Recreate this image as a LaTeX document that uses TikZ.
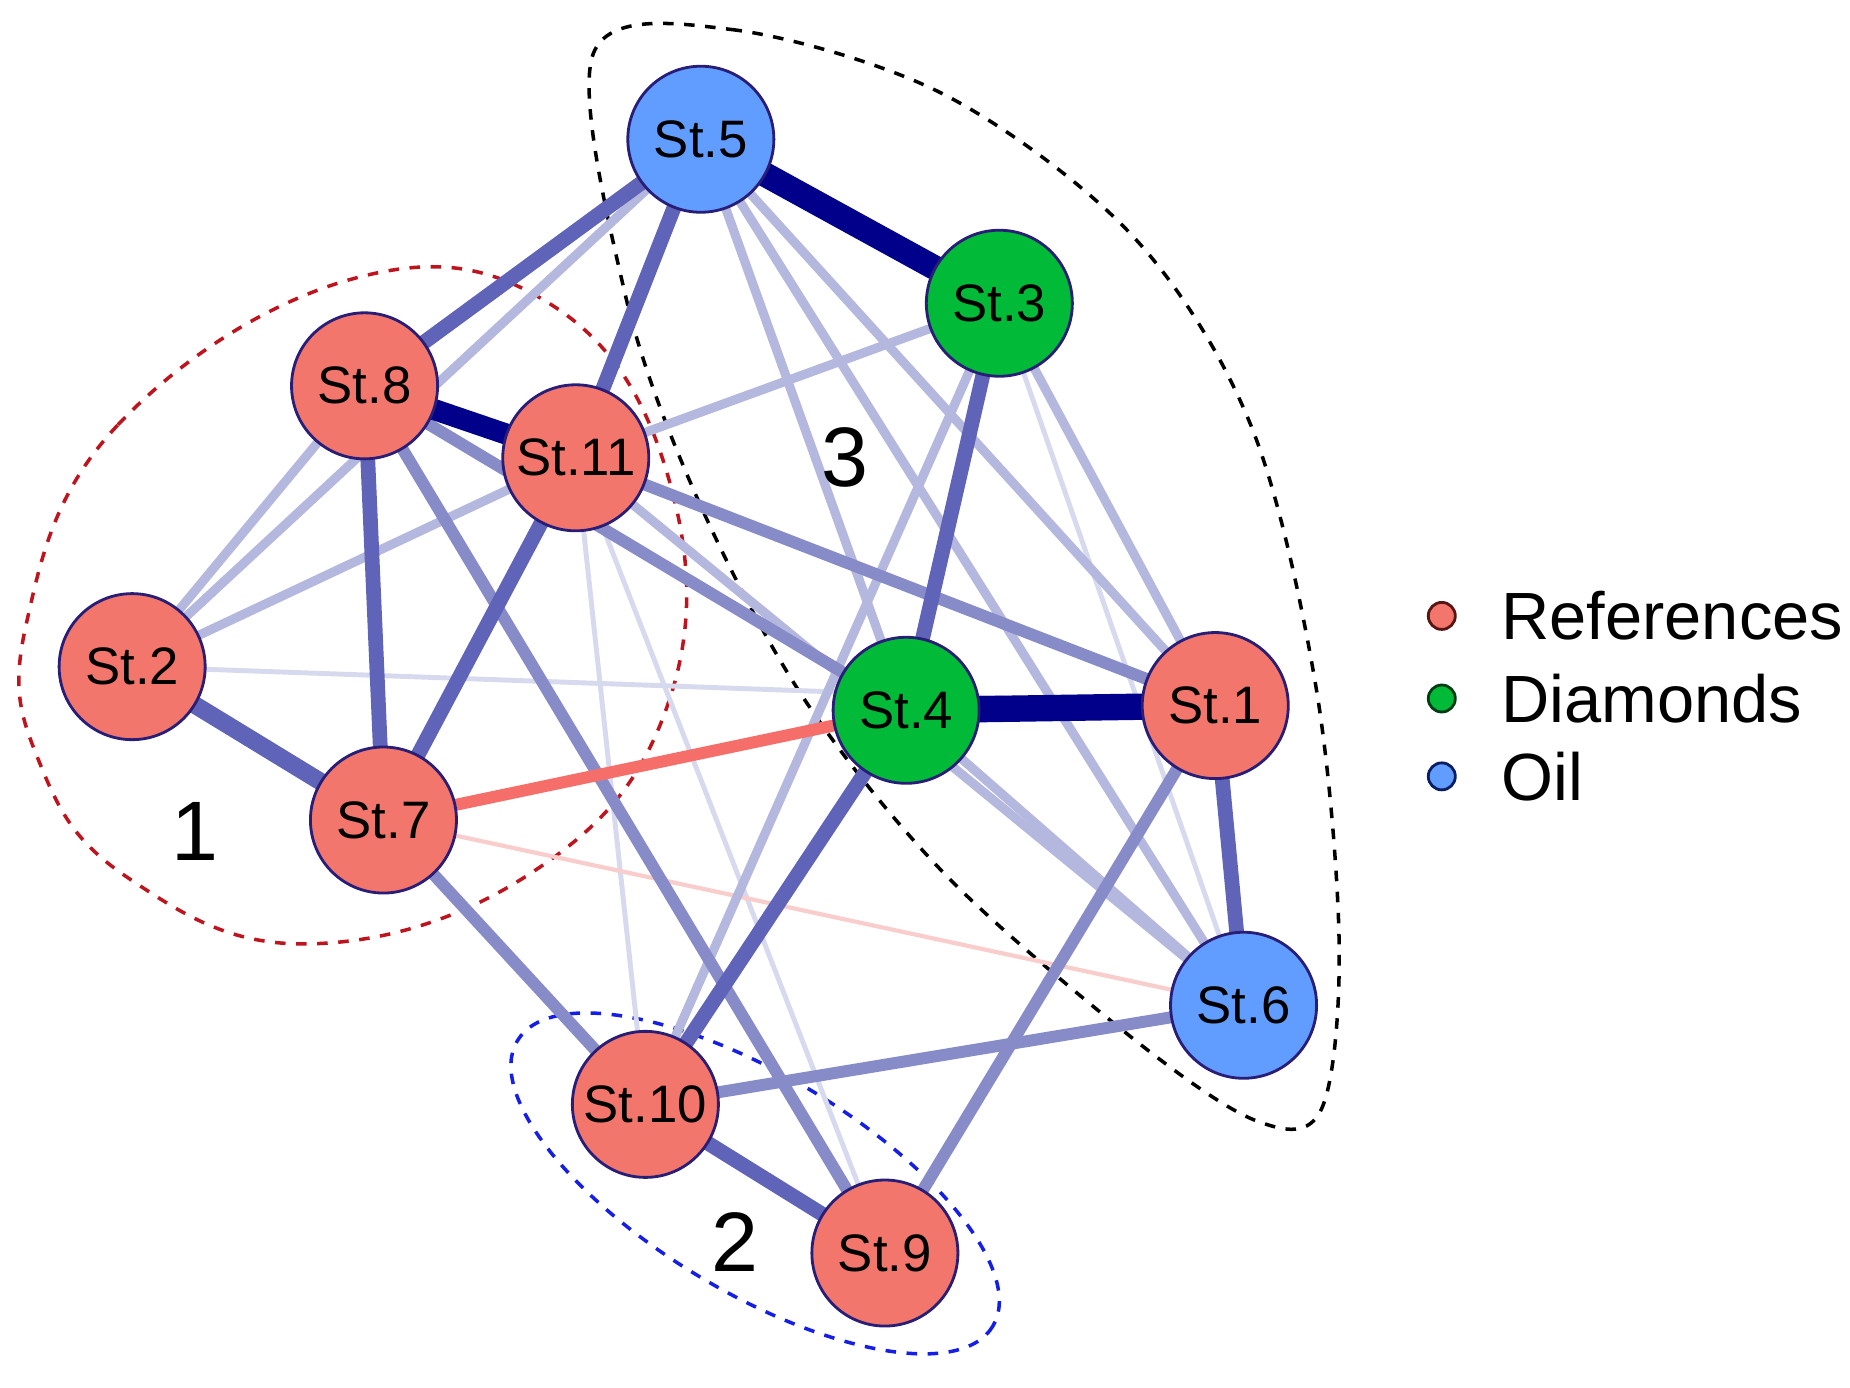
\documentclass[tikz,border=0pt]{standalone}
\usepackage{fontspec}
\setmainfont{Liberation Sans}
\begin{document}
\begin{tikzpicture}[x=0.0118cm,y=-0.0118cm,
  st/.style={circle,draw={rgb,255:red,40;green,30;blue,120},line width=0.8pt,minimum size=1.46cm,inner sep=0pt,font=\fontsize{15}{17}\selectfont},
  ref/.style={st,fill={rgb,255:red,242;green,118;blue,108}},
  dia/.style={st,fill={rgb,255:red,0;green,186;blue,56}},
  oil/.style={st,fill={rgb,255:red,97;green,156;blue,255}},
  e0/.style={line width=7pt,draw={rgb,255:red,0;green,0;blue,139}},
  e1/.style={line width=4.2pt,draw={rgb,255:red,95;green,100;blue,185}},
  e2/.style={line width=3.4pt,draw={rgb,255:red,135;green,140;blue,200}},
  e3/.style={line width=2.6pt,draw={rgb,255:red,180;green,183;blue,222}},
  e4/.style={line width=1.4pt,draw={rgb,255:red,215;green,217;blue,238}},
  red/.style={line width=3.4pt,draw={rgb,255:red,245;green,110;blue,105}},
  pink/.style={line width=1.2pt,draw={rgb,255:red,250;green,205;blue,205}},
  hull/.style={dashed,line width=1pt},
  num/.style={font=\fontsize{24}{26}\selectfont},
  leg/.style={circle,draw,line width=0.8pt,minimum size=0.27cm,inner sep=0pt},
  legt/.style={anchor=west,font=\fontsize{19}{22}\selectfont}]
\useasboundingbox (0,0) rectangle (1568,1176);
\coordinate (S5) at (594,118); \coordinate (S3) at (847,257);
\coordinate (S8) at (309,327); \coordinate (S11) at (488,388);
\coordinate (S2) at (112,565); \coordinate (S7) at (325,695);
\coordinate (S4) at (768,602); \coordinate (S1) at (1030,598);
\coordinate (S6) at (1054,852); \coordinate (S10) at (547,936);
\coordinate (S9) at (750,1062);
% hulls
\draw[hull,draw={rgb,255:red,190;green,20;blue,30}] plot[smooth cycle,tension=0.7] coordinates {(22,530) (100,360) (300,236) (470,260) (568,410) (565,600) (450,740) (260,800) (110,745) (35,650)};
\draw[hull,draw={rgb,255:red,20;green,30;blue,230}] (640,1003) ellipse[x radius=235,y radius=92,rotate=-31];
\draw[hull] plot[smooth cycle,tension=0.55] coordinates {(503,45) (620,25) (800,80) (960,200) (1060,360) (1115,580) (1135,800) (1120,940) (1065,950) (960,880) (800,740) (680,590) (590,420) (530,250)};
% edges
\draw[e4] (S2) -- (S1); \draw[e4] (S11) -- (S9); \draw[e4] (S11) -- (S10); \draw[e4] (S3) -- (S6);
\draw[pink] (S7) -- (S6);
\draw[e3] (S5) -- (S4); \draw[e3] (S5) -- (S1); \draw[e3] (S5) -- (S6); \draw[e3] (S3) -- (S11);
\draw[e3] (S3) -- (S10); \draw[e3] (S11) -- (S2); \draw[e3] (S11) -- (S6); \draw[e3] (S8) -- (S2);
\draw[e3] (S5) -- (S2); \draw[e3] (S3) -- (S1); \draw[e3] (S4) -- (S6);
\draw[e2] (S11) -- (S1); \draw[e2] (S8) -- (S4); \draw[e2] (S8) -- (S9); \draw[e2] (S7) -- (S10);
\draw[e2] (S1) -- (S9); \draw[e2] (S10) -- (S6);
\draw[e1] (S5) -- (S8); \draw[e1] (S5) -- (S11); \draw[e1] (S8) -- (S7); \draw[e1] (S11) -- (S7);
\draw[e1] (S3) -- (S4); \draw[e1] (S4) -- (S10); \draw[e1] (S1) -- (S6); \draw[e1] (S10) -- (S9);
\draw[e1,line width=5pt] (S2) -- (S7);
\draw[red] (S7) -- (S4);
\draw[e0] (S5) -- (S3); \draw[e0,line width=6pt] (S8) -- (S11); \draw[e0,line width=7.5pt] (S4) -- (S1);
% nodes
\node[oil] (n5) at (S5) {St.5}; \node[dia] (n3) at (S3) {St.3};
\node[ref] (n8) at (S8) {St.8}; \node[ref] (n11) at (S11) {St.11};
\node[ref] (n2) at (S2) {St.2}; \node[ref] (n7) at (S7) {St.7};
\node[dia] (n4) at (S4) {St.4}; \node[ref] (n1) at (S1) {St.1};
\node[oil] (n6) at (S6) {St.6}; \node[ref] (n10) at (S10) {St.10};
\node[ref] (n9) at (S9) {St.9};
\node[num] (l1) at (165,705) {1}; \node[num] (l2) at (623,1053) {2}; \node[num] (l3) at (716,388) {3};
% legend
\node[leg,fill={rgb,255:red,242;green,118;blue,108},draw={rgb,255:red,90;green,20;blue,20}] (d1) at (1222,522) {};
\node[leg,fill={rgb,255:red,0;green,186;blue,56},draw={rgb,255:red,0;green,60;blue,20}] (d2) at (1222,592) {};
\node[leg,fill={rgb,255:red,97;green,156;blue,255},draw={rgb,255:red,10;green,30;blue,100}] (d3) at (1222,658) {};
\node[legt] (t1) at (1262,522) {References};
\node[legt] (t2) at (1262,592) {Diamonds};
\node[legt] (t3) at (1262,658) {Oil};
\end{tikzpicture}
\end{document}
